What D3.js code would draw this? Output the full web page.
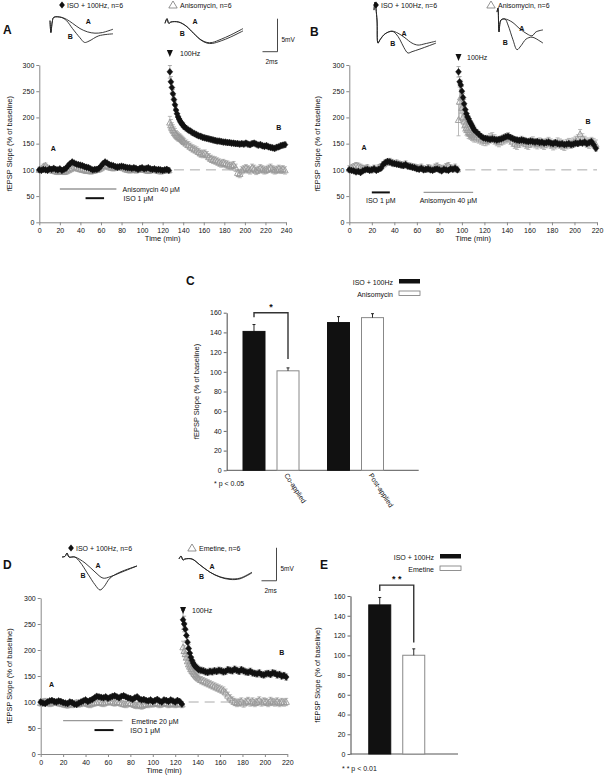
<!DOCTYPE html>
<html><head><meta charset="utf-8">
<script src="https://cdn.jsdelivr.net/npm/d3@7"></script>
<style>body{margin:0;background:#fff}svg{display:block}text{font-family:"Liberation Sans",Arial,sans-serif;fill:#111}</style>
</head><body><svg id="c" width="604" height="778"></svg>
<script>
// ---------------- DATA ----------------
// Panel A (ISO + 100Hz vs Anisomycin co-applied). base: t=0..126 step 2; early: t=127..141 step 1; late: t=143..239 step 2
const A_iso_base=[100,99,101,100,99,102,101,103,101,100,102,99,101,103,108,112,115,113,111,110,109,108,106,105,104,102,100,101,101,103,107,112,115,113,110,109,108,106,105,106,107,106,105,104,104,103,104,103,101,103,104,102,103,104,102,101,102,100,101,100,99,100,101,99];
const A_iso_early=[287,268,257,245,234,224,214,207,201,197,193,190,187,185,182];
const A_iso_late=[179,176,174,171,169,167,165,164,162,161,160,159,158,157,156,155,155,154,153,153,152,152,151,151,150,150,149,150,149,151,149,148,150,151,149,147,148,146,145,146,144,143,142,141,143,144,146,147,148];
const A_ani_base=[100,102,106,108,104,101,99,98,97,96,98,97,96,97,99,101,103,106,104,102,101,100,99,98,98,97,98,99,100,101,103,106,108,107,105,104,103,104,106,105,104,103,101,100,99,100,101,99,100,102,101,100,99,98,99,100,101,99,98,97,98,99,100,99];
const A_ani_early=[190,185,180,176,173,170,167,165,163,162,161,159,157,155,153];
const A_ani_late=[150,147,144,141,139,137,134,131,130,131,128,124,121,119,118,116,114,112,113,111,110,108,107,109,104,94,92,99,101,103,101,99,104,102,98,100,103,101,99,100,102,104,101,99,100,102,100,101,99];
const A_err_iso_early=[12,10,9,8,8,7,7,6,6,6,5,5,5,5,5];
const A_err_ani_early=[12,11,10,10,9,9,8,8,8,7,7,7,7,7,7];
// Panel B (Anisomycin post-applied). base: t=0..96 step 2; early: 97..111 step 1; late: 113..219 step 2
const B_iso_base=[100,99,98,96,97,95,98,100,101,99,100,102,99,101,103,110,114,116,115,113,112,111,110,109,108,110,107,106,105,104,102,101,103,100,101,102,100,99,101,102,100,98,101,100,99,102,101,103,100];
const B_iso_early=[287,268,262,250,238,226,215,207,201,197,192,188,184,180,176];
const B_iso_late=[172,168,164,161,160,159,158,159,158,157,158,159,161,163,164,162,160,158,157,156,157,156,155,154,155,154,153,154,152,153,151,152,153,151,150,152,150,149,150,148,149,150,148,149,151,150,152,151,153,150,152,154,148,141];
const B_ani_base=[102,104,106,108,107,105,103,102,104,101,100,103,101,104,106,110,113,115,116,114,112,113,111,110,109,111,108,107,106,105,104,103,105,102,101,104,103,101,105,107,104,102,103,106,108,104,102,105,101];
const B_ani_early=[195,230,238,218,200,192,186,180,176,172,170,168,166,165,163];
const B_ani_late=[162,160,158,156,155,157,160,162,158,155,153,156,158,160,162,158,154,150,148,152,155,153,150,148,152,154,151,149,152,150,148,151,153,150,147,149,152,150,148,146,149,151,150,152,155,158,168,160,155,152,150,153,151,148];
const B_err_iso_early=[10,10,9,9,8,8,7,7,7,6,6,6,6,6,6];
const B_err_ani_early=[30,35,30,25,20,18,15,14,12,12,11,10,10,10,10];
// Panel D (Emetine). base: 0..126 step 2; early: 127..141 step 1; late: 143..219 step 2
const D_iso_base=[100,98,97,100,102,103,101,100,102,101,99,98,97,100,99,96,95,98,100,102,104,101,103,105,108,111,110,109,108,110,107,109,111,112,110,108,111,112,110,108,107,105,108,110,106,104,105,103,102,104,101,103,105,102,100,104,103,101,104,102,100,103,101,96];
const D_iso_early=[258,250,240,228,215,203,194,186,180,175,171,168,166,164,162];
const D_iso_late=[161,160,158,157,159,158,160,159,161,160,158,159,162,161,160,163,161,159,162,160,158,157,159,156,155,154,156,153,152,154,155,153,156,155,152,153,150,151,148];
const D_eme_base=[98,100,101,99,97,98,100,99,98,97,96,95,94,96,95,97,98,96,97,99,98,96,95,97,98,99,100,98,97,99,100,101,99,98,100,99,97,96,95,98,97,96,94,93,95,92,94,96,95,97,96,98,97,95,96,98,97,95,96,97,95,96,97,95];
const D_eme_early=[205,198,192,185,178,172,168,163,160,157,154,151,149,147,145];
const D_eme_late=[142,140,138,136,134,132,130,128,126,124,122,118,112,107,103,100,98,99,101,97,100,102,99,101,98,100,103,99,101,100,98,102,100,99,101,98,100,99,100];
const D_err_iso_early=[18,15,12,10,9,8,8,7,7,6,6,6,6,6,6];
const D_err_eme_early=[12,11,10,10,9,9,8,8,8,8,7,7,7,7,7];
// drug applications [start, end] (min)
const A_drugs=[["Anisomycin 40 \u03bcM",20,75],["ISO 1 \u03bcM",45,63]];
const B_drugs=[["ISO 1 \u03bcM",20,36],["Anisomycin 40 \u03bcM",66,110]];
const D_drugs=[["Emetine 20 \u03bcM",20,73],["ISO 1 \u03bcM",48,65]];
// tick labels
const xTicks240=[0,20,40,60,80,100,120,140,160,180,200,220,240];
const xTicks220=[0,20,40,60,80,100,120,140,160,180,200,220];
const yTicks300=[0,50,100,150,200,250,300];
const yTicks160=[0,20,40,60,80,100,120,140,160];
// bar charts
const C_cats=["Co-applied","Post-applied"];
const C_iso=[141,150], C_iso_err=[7,6];
const C_ani=[101,155], C_ani_err=[3,4];
const E_cats=["E"];
const E_iso=[151], E_iso_err=[7.5];
const E_eme=[100], E_eme_err=[6.5];
// example traces [ms, mV]
const trA_iso_A=[[0,-0.4],[0.12,-2.2],[0.3,-0.6],[0.5,0.1],[1.5,0.1],[2.2,-0.2],[3,-0.8],[4,-1.6],[5,-2.1],[6,-2.3],[7,-2.2],[8.4,-1.7]];
const trA_iso_B=[[0,-0.4],[0.12,-2.2],[0.3,-0.6],[0.5,0.1],[1.5,0.1],[2.2,-0.4],[3,-1.6],[4,-3.0],[4.6,-3.7],[5.2,-3.5],[6.5,-2.7],[8.4,-2.4]];
const trA_ani_A=[[0,-0.2],[0.27,0.5],[0.5,-0.2],[0.8,0],[1.8,0],[2.8,-0.6],[3.8,-1.7],[4.8,-2.7],[5.6,-3.1],[6.3,-3.1],[7.5,-2.6],[8.7,-2],[10.4,-1.0]];
const trA_ani_B=[[0,-0.2],[0.27,0.5],[0.5,-0.2],[0.8,0],[1.8,0],[2.8,-0.6],[3.8,-1.7],[4.8,-2.75],[5.6,-3.2],[6.3,-3.25],[7.5,-2.85],[8.7,-2.3],[10.4,-1.35]];
const trB_iso_A=[[0,1.5],[0.13,2.7],[0.4,0],[0.53,-3.5],[0.8,-3],[1.47,-2.1],[2.4,-1.7],[3.2,-2],[4.13,-2.7],[5.07,-3.5],[5.87,-3.8],[6.8,-3.6],[8.27,-3.2]];
const trB_iso_B=[[0,1.5],[0.13,2.7],[0.4,0],[0.53,-3.5],[0.8,-3],[1.47,-2.1],[2.4,-1.7],[2.93,-2.1],[3.47,-3],[4,-4.2],[4.53,-5],[5.07,-4.8],[6.13,-4.4],[8.27,-3.5]];
const trB_ani_A=[[0,1.2],[0.13,1.8],[0.27,-1.8],[0.53,0],[1.07,0.15],[2,-0.3],[3.07,-1.36],[4,-2.1],[4.67,-2.4],[5.2,-1.8],[6.13,-1.5]];
const trB_ani_B=[[0,1.2],[0.13,1.8],[0.27,-1.8],[0.53,0],[1.07,0.15],[1.47,-0.76],[2.13,-3],[2.67,-4.5],[3.2,-3.9],[3.87,-2.9],[4.67,-2.6],[5.73,-3.2],[6.13,-3.5]];
const trD_iso_A=[[0,0],[0.4,0.1],[0.67,0.6],[0.93,0],[1.7,0],[3.07,-0.9],[4.4,-2.27],[5.47,-3.2],[6.4,-3],[7.73,-2.4],[10,-1.36]];
const trD_iso_B=[[0,0],[0.4,0.1],[0.67,0.6],[0.93,0],[1.7,0],[2.4,-0.76],[3.47,-2.6],[4.4,-4.2],[5.07,-5],[5.6,-4.5],[6.4,-3.2],[7.73,-2.3],[10,-1.36]];
const trD_eme_A=[[0,0],[0.27,0.45],[0.53,-0.15],[0.8,0],[1.73,0],[2.8,-0.9],[4.13,-2],[5.47,-2.7],[6.8,-3],[8.13,-2.9],[9.73,-2]];
const trD_eme_B=[[0,0],[0.27,0.45],[0.53,-0.15],[0.8,0],[1.73,0],[2.8,-0.9],[4.13,-2],[5.47,-2.75],[6.8,-3.1],[8.13,-3.0],[9.73,-2.1]];

// ---------------- DRAWING ----------------
const svg=d3.select("#c");
const F="Liberation Sans, Arial, sans-serif";
function txt(g,x,y,s,o={}){const t=g.append("text").attr("x",x).attr("y",y).attr("font-size",o.size||7).text(s);
  if(o.anchor)t.attr("text-anchor",o.anchor); if(o.weight)t.attr("font-weight",o.weight); if(o.rot!=null)t.attr("transform",`rotate(${o.rot},${x},${y})`); if(o.fill)t.style("fill",o.fill); return t;}
const diamond="M0,-3.4L2.9,0L0,3.4L-2.9,0Z", tri="M0,-3.4L3.2,2.4L-3.2,2.4Z";
function series(segs){const out=[];segs.forEach(([t0,st,vals,err])=>vals.forEach((v,i)=>out.push({t:t0+i*st,v,e:Array.isArray(err)?err[i]:err})));return out;}

function timePanel(c){
  const g=svg.append("g");
  const x=d3.scaleLinear().domain([0,c.xmax]).range(c.xr);
  const y=d3.scaleLinear().domain([0,300]).range(c.yr);
  const ax=g.append("g").attr("transform",`translate(0,${c.yr[0]})`).call(d3.axisBottom(x).tickValues(c.xt).tickSize(3).tickSizeOuter(0));
  const ay=g.append("g").attr("transform",`translate(${c.xr[0]},0)`).call(d3.axisLeft(y).tickValues(yTicks300).tickSize(3).tickSizeOuter(0));
  [ax,ay].forEach(a=>{a.selectAll("path,line").attr("stroke","#888");a.selectAll("text").attr("font-size",7).attr("font-family",F).style("fill","#111");});
  ay.selectAll("text").attr("x",-5);
  txt(g,(c.xr[0]+c.xr[1])/2,c.yr[0]+19,"Time (min)",{anchor:"middle",size:7.5});
  txt(g,c.ylx,(c.yr[0]+c.yr[1])/2,"fEPSP Slope (% of baseline)",{anchor:"middle",size:7.5,rot:-90});
  g.append("line").attr("x1",x(c.dash[0])).attr("x2",x(c.dash[1])).attr("y1",y(100)).attr("y2",y(100)).attr("stroke","#aaa").attr("stroke-width",1).attr("stroke-dasharray","10,6");
  c.drugs.forEach((d,i)=>{const L=c.drugLay[i];
    g.append("line").attr("x1",x(d[1])).attr("x2",x(d[2])).attr("y1",y(L.lv)).attr("y2",y(L.lv)).attr("stroke",d[0].startsWith("ISO")?"#111":"#999").attr("stroke-width",d[0].startsWith("ISO")?2:1.3);
    if(L.anchor==="middle")txt(g,x((d[1]+d[2])/2),y(L.lv)+11,d[0],{anchor:"middle"});
    else txt(g,x(L.tx),y(L.lv)+3,d[0]);
  });
  c.series.forEach(s=>{
    const sg=g.append("g");
    sg.selectAll("g.e").data(s.data).join("g").each(function(d){const e=d3.select(this);
      e.append("line").attr("x1",x(d.t)).attr("x2",x(d.t)).attr("y1",y(d.v-d.e)).attr("y2",y(d.v+d.e)).attr("stroke",s.ec).attr("stroke-width",0.8);
      [d.v-d.e,d.v+d.e].forEach(v=>e.append("line").attr("x1",x(d.t)-2).attr("x2",x(d.t)+2).attr("y1",y(v)).attr("y2",y(v)).attr("stroke",s.ec).attr("stroke-width",0.8));});
    sg.selectAll("path.m").data(s.data).join("path").attr("d",s.shape).attr("transform",d=>`translate(${x(d.t)},${y(d.v)})`)
      .attr("fill",s.fill).attr("stroke",s.stroke).attr("stroke-width",s.sw);
  });
  g.append("path").attr("d","M-3,-3L3,-3L0,4Z").attr("transform",`translate(${x(c.stim)},${c.arrowY})`).attr("fill","#111");
  txt(g,c.hzX,c.arrowY+3,"100Hz");
  txt(g,x(c.labA[0]),y(c.labA[1]),"A",{anchor:"middle",weight:"bold",size:7});
  txt(g,x(c.labB[0]),y(c.labB[1]),"B",{anchor:"middle",weight:"bold",size:7});
}
const isoStyle={shape:diamond,fill:"#111",stroke:"#111",sw:0.5,ec:"#999"};
const triStyle={shape:tri,fill:"none",stroke:"#999",sw:0.9,ec:"#aaa"};

timePanel({xmax:240,xr:[39.3,286],yr:[222.3,65],xt:xTicks240,ylx:12,dash:[131,240],stim:127,arrowY:53,hzX:180,
  drugs:A_drugs,drugLay:[{lv:63.5,tx:81},{lv:46,tx:82}],labA:[13.5,136],labB:[233,176],
  series:[Object.assign({data:series([[0,2,A_ani_base,5],[127,1,A_ani_early,A_err_ani_early],[143,2,A_ani_late,7]])},triStyle),
          Object.assign({data:series([[0,2,A_iso_base,3],[127,1,A_iso_early,A_err_iso_early],[143,2,A_iso_late,5]])},isoStyle)]});
timePanel({xmax:220,xr:[349.3,597],yr:[222.3,65],xt:xTicks220,ylx:320,dash:[103,220],stim:97,arrowY:57,hzX:467,
  drugs:B_drugs,drugLay:[{lv:57,anchor:"middle"},{lv:57,anchor:"middle"}],labA:[13,137],labB:[212,188],
  series:[Object.assign({data:series([[0,2,B_ani_base,6],[97,1,B_ani_early,B_err_ani_early],[113,2,B_ani_late,9]])},triStyle),
          Object.assign({data:series([[0,2,B_iso_base,4],[97,1,B_iso_early,B_err_iso_early],[113,2,B_iso_late,5]])},isoStyle)]});
timePanel({xmax:220,xr:[40.7,287.3],yr:[754,598],xt:xTicks220,ylx:12,dash:[132,220],stim:127,arrowY:610,hzX:192,
  drugs:D_drugs,drugLay:[{lv:64,tx:81},{lv:46,tx:80}],labA:[9.7,128],labB:[215,190],
  series:[Object.assign({data:series([[0,2,D_eme_base,6],[127,1,D_eme_early,D_err_eme_early],[143,2,D_eme_late,7]])},triStyle),
          Object.assign({data:series([[0,2,D_iso_base,4],[127,1,D_iso_early,D_err_iso_early],[143,2,D_iso_late,6]])},isoStyle)]});

function trace(ox,oy,lines,labs,bar){
  const g=svg.append("g");
  const x=d3.scaleLinear().domain([0,1]).range([ox,ox+7.5]);
  const y=d3.scaleLinear().domain([0,1]).range([oy,oy-6.6]);
  const ln=d3.line().x(d=>x(d[0])).y(d=>y(d[1])).curve(d3.curveCatmullRom);
  lines.forEach(l=>g.append("path").attr("d",ln(l)).attr("fill","none").attr("stroke","#222").attr("stroke-width",0.9));
  labs.forEach(l=>txt(g,x(l[1]),y(l[2]),l[0],{anchor:"middle",weight:"bold",size:7}));
  if(bar){
    const bx=x(bar[0]),by=y(bar[1]);
    g.append("path").attr("d",`M${bx},${y(bar[1]+5)}V${by}H${x(bar[0]-2)}`).attr("fill","none").attr("stroke","#333").attr("stroke-width",0.9);
    txt(g,bx+4,by-10,"5mV",{size:6.5}); txt(g,x(bar[0]-1.6),by+12,"2ms",{size:6.5});
  }
}
trace(50,18,[trA_iso_A,trA_iso_B],[["A",5.1,-0.9],["B",2.7,-3.2]]);
trace(165,22,[trA_ani_A,trA_ani_B],[["A",4,-0.3],["B",2.3,-2.1]],[15,-4.5]);
trace(374,20,[trB_iso_A,trB_iso_B],[["A",4,-2.4],["B",2.5,-3.9]]);
trace(497,20,[trB_ani_A,trB_ani_B],[["A",3.3,-1.6],["B",1.1,-3.8]]);
trace(62,557,[trD_iso_A,trD_iso_B],[["A",4.8,-1.6],["B",2.8,-3.2]]);
trace(179,559,[trD_eme_A,trD_eme_B],[["A",4.4,-1.5],["B",3,-3]],[13,-3.3]);

function legend(x1,x2,y,l1,l2){
  svg.append("path").attr("d",diamond).attr("transform",`translate(${x1},${y})`).attr("fill","#111");
  txt(svg,x1+5,y+2.5,l1);
  svg.append("path").attr("d","M0,-4L4.2,3L-4.2,3Z").attr("transform",`translate(${x2},${y})`).attr("fill","none").attr("stroke","#666").attr("stroke-width",0.7);
  txt(svg,x2+7,y+2.5,l2);
}
legend(62,173,5,"ISO + 100Hz, n=6","Anisomycin, n=6");
legend(376,491,5,"ISO + 100Hz, n=6","Anisomycin, n=6");
legend(71,192,548,"ISO + 100Hz, n=6","Emetine, n=6");

[["A",3,34],["B",310,36],["C",186,285],["D",3,569],["E",320,569]].forEach(p=>txt(svg,p[1],p[2],p[0],{size:12,weight:"bold"}));

function barPanel(b){
  const g=svg.append("g");
  const y=d3.scaleLinear().domain([0,160]).range(b.yr);
  const x0=d3.scaleBand().domain(b.cats).range(b.gr);
  const x1=d3.scaleBand().domain(["iso","oth"]).range([14.25,70.25]).paddingInner(0.353);
  const ay=g.append("g").attr("transform",`translate(${b.ax},0)`).call(d3.axisLeft(y).tickValues(yTicks160).tickSize(3).tickSizeOuter(0));
  ay.selectAll("path,line").attr("stroke","#666"); ay.select("path").attr("stroke-width",1.2);
  ay.selectAll("text").attr("font-size",7).attr("font-family",F).style("fill","#111").attr("x",-5);
  g.append("line").attr("x1",b.ax).attr("x2",b.axEnd).attr("y1",y(0)).attr("y2",y(0)).attr("stroke","#555").attr("stroke-width",1);
  txt(g,b.ylx,(b.yr[0]+b.yr[1])/2,"fEPSP Slope (% of baseline)",{anchor:"middle",size:7.5,rot:-90});
  b.cats.forEach((c,i)=>{
    [["iso",b.iso[i],b.isoE[i],"#111","#111"],["oth",b.oth[i],b.othE[i],"#fff","#888"]].forEach(([k,v,e,f,s])=>{
      const bx=x0(c)+x1(k),w=x1.bandwidth();
      g.append("rect").attr("x",bx).attr("y",y(v)).attr("width",w).attr("height",y(0)-y(v)).attr("fill",f).attr("stroke",s).attr("stroke-width",1);
      g.append("line").attr("x1",bx+w/2).attr("x2",bx+w/2).attr("y1",y(v)).attr("y2",y(v+e)).attr("stroke","#111").attr("stroke-width",0.9);
      g.append("line").attr("x1",bx+w/2-1.5).attr("x2",bx+w/2+1.5).attr("y1",y(v+e)).attr("y2",y(v+e)).attr("stroke","#111").attr("stroke-width",0.9);
    });
    if(b.rotLabels) txt(g,x0(c)+x0.bandwidth()/2+13,y(0)+5,c,{rot:57});
  });
  const c0=b.cats[0], xa=x0(c0)+x1("iso")+x1.bandwidth()/2, xb=x0(c0)+x1("oth")+x1.bandwidth()/2;
  g.append("path").attr("d",`M${xa},${y(b.br[1])}V${y(b.br[0])}H${xb}V${y(b.br[2])}`).attr("fill","none").attr("stroke","#333").attr("stroke-width",1.4);
  txt(g,(xa+xb)/2,y(b.br[0])-3,b.stars,{anchor:"middle",size:9,weight:"bold"});
  txt(g,b.note[0],b.note[1],b.note[2],{size:7});
  const L=b.leg;
  txt(g,L[0],L[1]+3,"ISO + 100Hz",{anchor:"end"}); g.append("rect").attr("x",L[0]+6).attr("y",L[1]-2.5).attr("width",21).attr("height",4.5).attr("fill","#111");
  txt(g,L[0],L[1]+15,b.othName,{anchor:"end"}); g.append("rect").attr("x",L[0]+6).attr("y",L[1]+9.5).attr("width",21).attr("height",4.5).attr("fill","#fff").attr("stroke","#777").attr("stroke-width",0.8);
}
barPanel({cats:C_cats,iso:C_iso,isoE:C_iso_err,oth:C_ani,othE:C_ani_err,yr:[470.3,312.7],gr:[228.75,397.75],ax:226.7,axEnd:418.7,ylx:199,
  rotLabels:true,br:[160,155.5,113],stars:"*",note:[214,486,"*  p < 0.05"],leg:[393,281.5],othName:"Anisomycin"});
barPanel({cats:E_cats,iso:E_iso,isoE:E_iso_err,oth:E_eme,othE:E_eme_err,yr:[754,596],gr:[354.5,439],ax:350.5,axEnd:458,ylx:320,
  rotLabels:false,br:[171,165,113],stars:"* *",note:[342,771,"* *  p < 0.01"],leg:[434,556.5],othName:"Emetine"});
</script></body></html>
